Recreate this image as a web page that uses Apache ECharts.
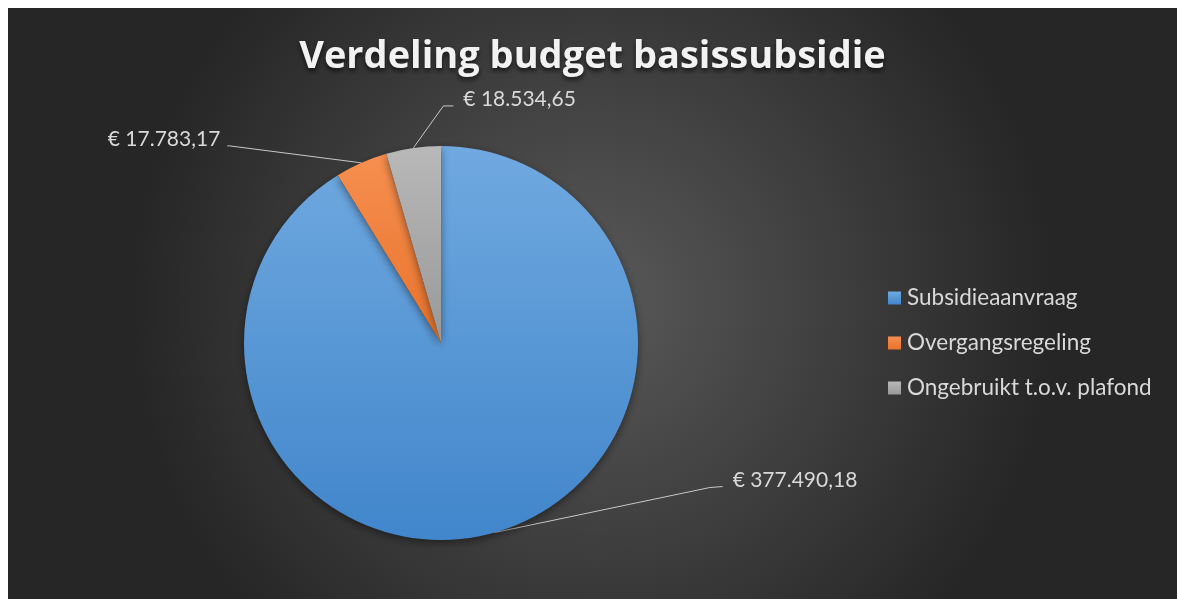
<!DOCTYPE html>
<html>
<head>
<meta charset="utf-8">
<script src="https://cdn.jsdelivr.net/npm/echarts@6/dist/echarts.min.js"></script>
<style>
  html, body { margin: 0; padding: 0; background: #ffffff; }
  #main { position: absolute; left: 8px; top: 8px; width: 1169px; height: 591px; }
</style>
</head>
<body>
<div id="main"></div>
<script>
// data
var categories = ['Subsidieaanvraag', 'Overgangsregeling', 'Ongebruikt t.o.v. plafond'];
var values = [377490.18, 17783.17, 18534.65];
var labelTexts = ['€ 377.490,18', '€ 17.783,17', '€ 18.534,65'];

// label placement, relative to the slice edge point (elbow, end of line, text)
var labelGuides = [
  { elbow: [215, -45], end: [228, -46], text: [238, -52], align: 'left' },
  { elbow: [-132, -17], end: [-134, -17], text: [-141, -24], align: 'right' },
  { elbow: [30, -42], end: [40, -42], text: [50, -49], align: 'left' }
];

var sliceColors = [
  ['#70a9e0', '#4186cb'],
  ['#f68f50', '#e8722b'],
  ['#b8b8b8', '#999999']
];

function grad(c) {
  return new echarts.graphic.LinearGradient(0, 0, 0, 1, [
    { offset: 0, color: c[0] },
    { offset: 1, color: c[1] }
  ]);
}

var chartDom = document.getElementById('main');
var myChart = echarts.init(chartDom);

var pieData = categories.map(function (name, i) {
  return {
    name: name,
    value: values[i],
    itemStyle: { color: grad(sliceColors[i]) }
  };
});

var option = {
  backgroundColor: {
    type: 'radial', x: 0.5, y: 0.5, r: 0.78,
    colorStops: [
      { offset: 0, color: '#595959' },
      { offset: 1, color: '#262626' }
    ]
  },
  title: {
    text: 'Verdeling budget basissubsidie',
    left: 'center',
    top: 25,
    textStyle: {
      fontFamily: 'Open Sans',
      fontWeight: 'bold',
      fontSize: 38,
      color: '#f2f2f2',
      textShadowColor: 'rgba(0,0,0,0.65)',
      textShadowBlur: 5,
      textShadowOffsetY: 3
    }
  },
  legend: {
    orient: 'vertical',
    left: 880,
    top: 278,
    padding: 0,
    itemGap: 21,
    itemWidth: 13,
    itemHeight: 13,
    icon: 'rect',
    textStyle: {
      fontFamily: 'Lato',
      fontSize: 22.5,
      lineHeight: 24,
      color: '#d9d9d9',
      padding: [0, 0, 0, 1]
    },
    data: categories
  },
  series: [
    {
      name: 'Verdeling',
      type: 'pie',
      center: [433, 335],
      radius: 197,
      startAngle: 90,
      clockwise: true,
      animation: false,
      itemStyle: {
        shadowBlur: 8,
        shadowColor: 'rgba(0,0,0,0.45)',
        shadowOffsetY: 3
      },
      label: {
        show: true,
        position: 'outside',
        fontFamily: 'Lato',
        fontSize: 21,
        color: '#d9d9d9',
        formatter: function (p) { return labelTexts[p.dataIndex]; }
      },
      labelLine: {
        show: true,
        length: 20,
        length2: 10,
        lineStyle: { color: '#c8c8c8', width: 1 }
      },
      labelLayout: function (params) {
        var g = labelGuides[params.dataIndex];
        var a = params.labelLinePoints[0];
        return {
          x: a[0] + g.text[0],
          y: a[1] + g.text[1],
          align: g.align,
          verticalAlign: 'middle',
          labelLinePoints: [
            [a[0], a[1]],
            [a[0] + g.elbow[0], a[1] + g.elbow[1]],
            [a[0] + g.end[0], a[1] + g.end[1]]
          ]
        };
      },
      data: pieData
    }
  ]
};

option && myChart.setOption(option);
</script>
</body>
</html>
